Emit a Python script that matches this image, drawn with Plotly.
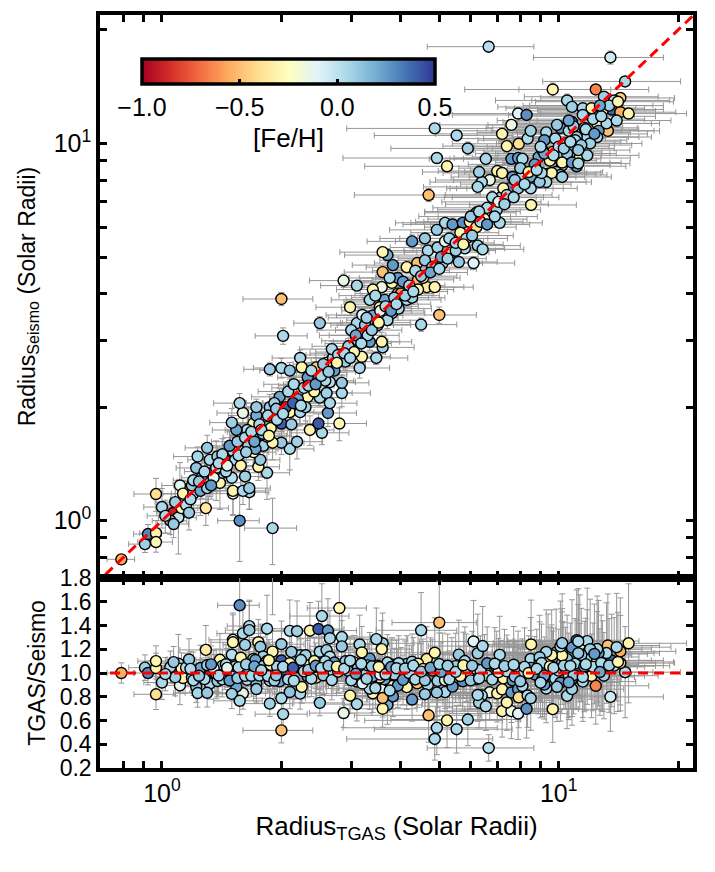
import numpy as np
import plotly.graph_objects as go
from plotly.subplots import make_subplots
from plotly.colors import diverging

# radius from TGAS parallax and from asteroseismology (solar radii), [Fe/H]
radius_tgas = [
    0.79, 0.906, 0.922, 0.966, 0.966, 0.966, 1.00, 1.066, 1.10, 1.12,
    1.29, 1.57, 1.90, 1.51, 1.66, 1.11, 1.13, 1.20, 1.19, 1.26,
    1.32, 1.40, 1.50, 1.42, 1.36, 1.32, 1.22, 1.23, 1.30, 1.37,
    1.44, 1.51, 1.51, 1.60, 1.66, 1.62, 1.84, 1.75, 1.77, 1.60,
    1.70, 1.80, 2.10, 2.00, 1.90, 1.84, 1.73, 1.70, 1.60, 1.64,
    1.54, 1.50, 1.57, 1.73, 1.73, 1.84, 2.00, 1.90, 1.87, 1.98,
    2.10, 2.23, 2.19, 2.53, 2.36, 2.48, 2.62, 2.80, 2.50, 2.33,
    2.60, 2.84, 2.84, 2.65, 2.47, 2.33, 2.50, 2.00, 2.02, 2.50,
    2.23, 1.87, 2.00, 2.10, 2.25, 2.45, 2.60, 2.70, 2.90, 3.15,
    3.10, 3.34, 3.60, 3.58, 3.19, 3.47, 3.80, 3.93, 3.58, 3.80,
    3.40, 3.34, 3.64, 3.70, 3.82, 2.87, 3.10, 3.64, 2.98, 3.20,
    3.54, 3.60, 4.27, 4.40, 4.14, 3.93, 4.42, 4.65, 4.87, 4.68,
    4.95, 5.17, 5.38, 5.10, 5.60, 6.10, 5.80, 6.25, 6.43, 5.17,
    4.93, 5.40, 5.73, 5.97, 6.20, 6.50, 6.60, 6.98, 7.10, 6.20,
    7.15, 7.50, 7.90, 8.50, 8.95, 7.25, 6.70, 6.40, 6.30, 7.00,
    7.20, 7.65, 8.10, 8.50, 6.55, 7.60, 7.90, 8.10, 8.90, 9.60,
    10.2, 10.5, 11.3, 11.8, 11.1, 10.2, 9.85, 9.40, 6.66, 13.5,
    14.7, 9.66, 12.4, 14.3, 13.6, 14.3, 15.0, 10.5, 10.8, 11.5,
    12.1, 13.0, 13.3, 9.66, 4.87, 5.53, 5.90, 4.93, 5.23, 4.70,
    8.52, 7.20, 7.60, 7.90, 8.30, 7.40, 7.93, 8.35, 8.50, 9.30,
    9.20, 9.80, 10.1, 10.8, 10.6, 11.3, 11.8, 12.5, 13.2, 12.6,
    11.1, 12.5, 10.9, 10.6, 10.2, 10.8, 11.2, 10.1, 9.60, 9.30,
    8.95, 9.05, 10.2, 5.00, 4.50, 4.00, 4.14, 4.27, 4.42, 3.60,
    3.75, 6.25, 1.05, 1.08, 1.15, 1.17, 1.20, 1.25, 1.28, 1.30,
    1.35, 1.38, 1.42, 1.45, 1.48, 1.53, 1.55, 1.58, 1.62, 1.65,
    1.68, 1.72, 1.76, 1.80, 1.85, 1.88, 1.92, 1.95, 2.05, 2.08,
    2.12, 2.15, 2.20, 2.28, 2.30, 2.38, 2.42, 2.55, 2.58, 2.68,
    2.72, 2.78, 2.95, 3.00, 3.05, 3.12, 3.25, 3.30, 3.40, 3.50,
    3.55, 3.70, 3.85, 3.95, 4.05, 4.20, 4.35, 4.55, 4.60, 4.80,
    5.05, 5.30, 5.50, 5.65, 5.85, 6.00, 6.35, 6.80, 7.05, 7.40,
    7.75, 8.20, 8.70, 9.10, 9.50, 10.0, 10.4, 11.0, 11.6, 12.2,
    12.9, 13.8, 14.0, 12.0, 11.4, 1.02, 1.07, 2.65, 3.45, 4.60,
    1.18, 1.24, 1.33, 1.39, 1.46, 1.56, 1.63, 1.71, 1.78, 1.86,
    1.94, 2.02, 2.14, 2.24, 2.34, 2.44, 2.52, 2.63, 2.76, 2.88,
    2.98, 3.08, 3.18, 3.28, 3.38, 3.52, 3.66, 3.78, 3.90, 4.10,
    4.30, 4.50, 4.75, 5.00, 5.25, 5.50, 5.75, 6.05, 6.30, 6.60,
    6.90, 7.30, 7.70, 8.00, 8.40, 8.80, 9.20, 9.70, 10.3, 10.7,
    11.2, 11.7, 12.3, 12.8, 13.4, 14.1, 9.00, 9.90, 11.5, 12.7,
]

radius_seismo = [
    0.79, 0.867, 0.922, 0.927, 0.878, 1.177, 1.087, 1.048, 1.02, 1.08,
    1.08, 1.00, 0.956, 1.18, 1.19, 1.24, 1.18, 1.18, 1.24, 1.30,
    1.26, 1.26, 1.30, 1.34, 1.36, 1.45, 1.38, 1.48, 1.56, 1.38,
    1.45, 1.53, 1.20, 1.20, 1.22, 1.31, 1.34, 1.39, 1.45, 1.53,
    1.52, 1.58, 1.55, 1.61, 1.61, 1.67, 1.67, 1.81, 1.93, 1.74,
    1.74, 1.82, 2.05, 1.90, 2.00, 1.77, 1.81, 1.88, 2.00, 2.13,
    1.94, 1.94, 1.62, 1.71, 1.74, 1.81, 1.93, 1.81, 2.12, 2.13,
    2.18, 2.18, 2.32, 2.33, 2.40, 2.40, 2.47, 3.87, 3.09, 3.34,
    2.70, 2.52, 2.54, 2.50, 2.55, 2.55, 2.62, 2.70, 2.64, 2.54,
    3.34, 2.98, 2.88, 2.98, 2.72, 2.70, 3.55, 4.00, 4.16, 4.27,
    4.10, 3.85, 3.80, 5.06, 4.76, 4.33, 4.20, 3.85, 3.68, 3.51,
    3.68, 5.15, 5.50, 4.82, 4.70, 4.40, 4.35, 4.16, 4.16, 5.20,
    5.30, 5.50, 5.15, 4.82, 4.85, 4.82, 5.27, 5.36, 5.24, 6.16,
    5.90, 6.10, 6.16, 6.20, 6.00, 6.30, 6.75, 6.67, 6.16, 6.55,
    7.20, 7.60, 7.60, 7.60, 8.15, 7.60, 8.00, 7.90, 8.40, 8.45,
    8.35, 8.15, 8.25, 8.15, 9.10, 9.10, 9.15, 9.10, 9.20, 9.10,
    9.40, 9.40, 9.15, 9.30, 8.70, 8.75, 8.40, 8.30, 18.05, 16.9,
    14.6, 13.9, 13.9, 13.2, 12.3, 12.1, 12.0, 13.0, 12.5, 12.4,
    12.4, 13.3, 10.8, 9.50, 10.96, 10.5, 9.70, 9.15, 8.70, 7.30,
    6.87, 10.6, 11.2, 12.0, 11.9, 9.84, 9.98, 10.3, 10.8, 10.7,
    10.2, 10.3, 11.0, 11.4, 10.8, 10.7, 10.4, 11.3, 11.3, 10.8,
    10.4, 10.4, 11.1, 11.5, 8.90, 8.90, 8.85, 8.25, 8.35, 7.90,
    7.90, 8.35, 8.15, 3.51, 3.31, 4.00, 3.85, 3.90, 4.10, 4.56,
    4.40, 7.67, 1.00, 1.12, 1.10, 1.05, 1.28, 1.20, 1.35, 1.22,
    1.30, 1.48, 1.50, 1.35, 1.58, 1.45, 1.62, 1.40, 1.66, 1.58,
    1.72, 1.55, 1.80, 1.70, 1.90, 1.76, 2.05, 1.85, 2.00, 2.20,
    1.80, 2.30, 2.10, 2.25, 2.00, 2.50, 2.20, 2.60, 2.35, 2.85,
    2.50, 2.75, 2.90, 3.20, 2.80, 3.00, 3.30, 3.10, 3.50, 3.30,
    3.60, 3.40, 3.90, 3.65, 4.30, 4.20, 4.60, 4.40, 4.90, 4.70,
    5.00, 5.60, 5.20, 5.80, 5.60, 6.40, 6.20, 7.20, 7.00, 7.30,
    8.00, 7.80, 8.80, 9.60, 9.00, 9.80, 10.0, 10.2, 11.0, 11.6,
    12.2, 13.0, 11.5, 10.0, 9.90, 1.03, 0.98, 2.05, 3.95, 5.60,
    1.14, 1.27, 1.24, 1.42, 1.40, 1.49, 1.52, 1.62, 1.74, 1.68,
    1.98, 1.92, 2.05, 2.02, 2.28, 2.30, 2.42, 2.48, 2.62, 2.78,
    2.70, 3.10, 2.95, 3.45, 3.20, 3.35, 3.70, 3.60, 3.75, 3.95,
    4.05, 4.45, 4.55, 4.65, 4.95, 5.45, 5.40, 5.70, 6.60, 6.10,
    6.40, 6.90, 7.20, 8.60, 8.40, 8.50, 9.40, 9.30, 9.70, 10.1,
    9.60, 10.9, 10.6, 11.8, 12.6, 12.9, 9.80, 11.2, 11.9, 12.6,
]

feh = [
    -0.55, 0.08, 0.30, -0.30, -0.28, -0.40, 0.05, -0.90, 0.00, -0.30,
    -0.35, 0.28, 0.05, -0.15, 0.05, -0.12, -0.30, 0.05, 0.10, 0.05,
    0.08, -0.30, 0.02, 0.10, -0.28, 0.05, 0.12, 0.06, 0.10, 0.00,
    0.25, 0.05, -0.30, 0.05, 0.10, 0.08, 0.05, -0.30, 0.10, 0.02,
    -0.25, 0.08, 0.05, 0.10, -0.30, 0.05, 0.25, -0.30, -0.15, 0.05,
    0.22, 0.08, 0.05, 0.20, 0.10, 0.02, 0.40, 0.05, 0.10, 0.22,
    -0.30, 0.05, 0.08, 0.05, -0.30, 0.42, 0.25, -0.28, 0.05, -0.30,
    0.08, 0.05, 0.10, 0.02, 0.40, 0.25, 0.05, -0.50, 0.05, 0.10,
    0.05, 0.08, 0.05, 0.12, -0.30, -0.45, -0.30, 0.05, 0.10, 0.05,
    0.05, 0.25, 0.08, -0.30, -0.30, 0.05, 0.05, -0.50, -0.15, -0.30,
    -0.30, 0.05, -0.10, 0.20, 0.25, -0.15, 0.05, 0.22, -0.30, -0.10,
    -0.35, -0.30, 0.25, -0.50, -0.30, 0.25, -0.50, -0.35, -0.30, 0.05,
    0.08, -0.15, -0.30, 0.05, 0.10, -0.10, 0.05, 0.08, 0.05, 0.05,
    0.10, 0.25, 0.28, -0.30, -0.40, -0.30, 0.05, 0.08, 0.05, 0.10,
    0.05, 0.25, 0.10, 0.05, 0.08, -0.30, -0.15, 0.05, 0.08, -0.30,
    -0.30, 0.25, 0.05, 0.22, 0.05, 0.25, 0.25, 0.05, 0.22, 0.08,
    0.05, 0.10, -0.30, 0.05, 0.25, 0.05, 0.08, -0.30, 0.02, -0.05,
    0.05, -0.30, -0.65, -0.45, 0.38, -0.55, -0.30, 0.05, 0.08, 0.05,
    -0.30, 0.08, -0.50, -0.50, 0.05, 0.05, 0.08, 0.05, -0.30, -0.50,
    -0.30, -0.30, -0.15, -0.10, 0.28, -0.30, -0.40, 0.05, 0.08, 0.05,
    0.25, 0.05, 0.25, 0.38, 0.05, -0.12, 0.05, -0.30, 0.05, 0.25,
    0.08, 0.05, 0.10, 0.22, -0.30, 0.25, 0.05, 0.05, -0.30, 0.05,
    0.10, 0.05, 0.08, -0.50, 0.05, -0.60, 0.05, 0.08, -0.30, -0.50,
    0.05, 0.05, 0.05, 0.08, 0.02, 0.10, 0.05, 0.22, 0.05, 0.08,
    -0.12, 0.10, 0.05, 0.05, 0.25, 0.05, 0.10, -0.30, 0.05, 0.08,
    0.05, 0.22, 0.05, 0.10, 0.05, -0.30, 0.08, 0.05, 0.40, 0.05,
    0.10, 0.05, 0.22, 0.05, 0.08, 0.05, -0.30, 0.10, 0.05, 0.05,
    0.25, 0.05, 0.08, 0.05, -0.30, 0.05, 0.10, 0.05, 0.22, 0.05,
    -0.12, 0.05, 0.08, 0.05, 0.25, 0.05, 0.05, -0.30, 0.10, 0.05,
    0.22, 0.05, 0.08, -0.30, 0.05, 0.10, 0.05, 0.05, -0.12, 0.05,
    0.10, 0.05, 0.25, 0.05, -0.30, 0.05, 0.10, 0.05, 0.22, 0.05,
    -0.30, 0.05, 0.05, 0.08, 0.10, 0.05, 0.10, 0.05, 0.05, 0.10,
    0.05, 0.10, 0.25, 0.05, -0.12, 0.05, 0.08, 0.22, 0.05, -0.30,
    0.10, 0.05, 0.40, 0.05, 0.08, 0.25, 0.05, 0.10, -0.30, 0.05,
    0.05, 0.22, 0.05, 0.08, 0.10, -0.30, 0.05, 0.25, 0.05, 0.08,
    0.05, 0.10, 0.22, 0.05, 0.08, 0.05, -0.30, 0.10, 0.05, 0.25,
    0.05, 0.08, 0.05, 0.10, -0.30, 0.05, 0.22, 0.05, 0.08, 0.05,
    0.10, 0.05, 0.25, 0.05, 0.08, -0.30, 0.05, 0.10, 0.05, 0.22,
]

# percent uncertainties
tgas_err_pct = [
    8, 9, 8, 9, 10, 12, 10, 9, 11, 10,
    14, 12, 15, 13, 12, 10, 11, 12, 10, 11,
    12, 13, 11, 12, 10, 12, 11, 13, 12, 11,
    12, 13, 12, 14, 13, 12, 14, 13, 12, 13,
    14, 13, 15, 14, 13, 12, 14, 13, 14, 12,
    13, 12, 14, 15, 13, 14, 15, 13, 14, 15,
    15, 14, 16, 17, 15, 16, 18, 17, 16, 15,
    16, 18, 17, 16, 15, 16, 17, 20, 15, 14,
    15, 14, 15, 16, 15, 17, 16, 17, 18, 19,
    18, 19, 20, 19, 18, 20, 21, 22, 20, 21,
    19, 20, 21, 22, 21, 18, 19, 20, 18, 19,
    20, 22, 23, 22, 21, 20, 23, 24, 25, 23,
    24, 25, 24, 26, 25, 27, 26, 28, 27, 25,
    24, 25, 26, 27, 26, 28, 27, 29, 28, 26,
    28, 29, 30, 31, 30, 28, 27, 26, 28, 29,
    29, 30, 31, 30, 28, 30, 31, 29, 32, 33,
    32, 33, 34, 35, 33, 32, 31, 32, 30, 36,
    38, 40, 36, 37, 35, 38, 40, 34, 35, 36,
    36, 37, 35, 33, 40, 38, 36, 42, 38, 35,
    30, 32, 34, 33, 35, 31, 32, 33, 34, 33,
    32, 34, 35, 33, 36, 34, 35, 37, 36, 38,
    35, 37, 33, 34, 32, 33, 35, 31, 33, 30,
    31, 30, 33, 24, 23, 21, 22, 21, 23, 20,
    21, 27, 10, 11, 10, 12, 11, 12, 11, 13,
    12, 13, 12, 14, 13, 12, 14, 13, 12, 14,
    13, 14, 13, 15, 14, 13, 15, 14, 15, 16,
    15, 16, 15, 17, 16, 15, 17, 16, 18, 17,
    18, 17, 19, 18, 20, 19, 18, 20, 19, 21,
    20, 21, 22, 21, 22, 23, 22, 24, 23, 25,
    24, 25, 26, 25, 27, 26, 28, 29, 28, 30,
    30, 31, 32, 33, 31, 34, 33, 35, 36, 35,
    36, 38, 37, 35, 34, 10, 9, 17, 19, 23,
    11, 12, 12, 13, 12, 13, 14, 13, 14, 14,
    15, 14, 16, 15, 16, 17, 16, 17, 18, 18,
    18, 19, 19, 20, 19, 20, 21, 21, 22, 22,
    22, 23, 24, 24, 25, 25, 26, 27, 27, 28,
    28, 29, 30, 30, 31, 32, 33, 32, 34, 34,
    35, 36, 36, 37, 37, 38, 32, 33, 35, 36,
]

seismo_err_pct = [
    3, 5, 6, 8, 6, 10, 12, 5, 20, 8,
    10, 22, 20, 12, 10, 15, 8, 10, 6, 12,
    8, 15, 10, 6, 12, 8, 10, 6, 8, 18,
    6, 10, 14, 8, 12, 6, 15, 8, 10, 7,
    8, 6, 12, 7, 10, 5, 9, 6, 8, 10,
    7, 9, 6, 8, 5, 10, 7, 6, 8, 5,
    6, 8, 10, 7, 9, 6, 8, 10, 5, 7,
    6, 8, 5, 7, 6, 8, 5, 4, 5, 4,
    5, 4, 6, 5, 4, 6, 5, 4, 5, 6,
    4, 5, 4, 6, 5, 4, 3, 4, 5, 4,
    4, 3, 5, 4, 3, 4, 3, 4, 5, 4,
    4, 3, 4, 3, 4, 5, 3, 4, 3, 4,
    3, 4, 3, 4, 3, 4, 3, 4, 3, 4,
    3, 4, 3, 4, 3, 4, 3, 4, 3, 4,
    3, 4, 3, 3, 4, 3, 4, 3, 4, 3,
    3, 4, 3, 3, 4, 3, 3, 4, 3, 3,
    3, 3, 4, 3, 3, 4, 3, 3, 3, 4,
    3, 4, 3, 3, 4, 3, 3, 4, 3, 3,
    3, 3, 4, 3, 3, 3, 4, 3, 3, 4,
    3, 4, 3, 3, 3, 4, 3, 3, 4, 3,
    3, 3, 4, 3, 3, 4, 3, 3, 4, 3,
    3, 3, 4, 3, 3, 4, 3, 3, 4, 3,
    3, 4, 3, 5, 4, 4, 3, 4, 3, 4,
    3, 4, 8, 12, 6, 10, 8, 14, 6, 10,
    8, 6, 10, 7, 9, 6, 8, 12, 7, 6,
    5, 8, 6, 7, 5, 9, 6, 7, 5, 6,
    7, 5, 6, 5, 8, 5, 6, 4, 6, 5,
    5, 4, 5, 4, 6, 4, 5, 4, 5, 4,
    4, 5, 4, 4, 3, 4, 3, 4, 3, 4,
    3, 4, 3, 4, 3, 4, 3, 4, 3, 3,
    3, 4, 3, 3, 4, 3, 3, 4, 3, 3,
    3, 3, 4, 3, 3, 10, 8, 6, 4, 3,
    9, 7, 8, 6, 10, 7, 6, 8, 5, 7,
    6, 7, 5, 6, 5, 6, 5, 6, 5, 4,
    5, 4, 5, 4, 5, 4, 4, 5, 4, 4,
    3, 4, 3, 4, 3, 4, 3, 4, 3, 4,
    3, 4, 3, 3, 4, 3, 3, 4, 3, 3,
    3, 3, 4, 3, 3, 4, 3, 3, 4, 3,
]

one_to_one_x = [0.72, 22.0]
unity_x = [0.74, 22.0]
unity_y = [1.0, 1.0]

log_tickvals = [0.8, 0.9, 1, 2, 3, 4, 5, 6, 7, 8, 9, 10, 20]
ratio_tickvals = [0.2, 0.4, 0.6, 0.8, 1.0, 1.2, 1.4, 1.6, 1.8]

assert len(radius_tgas) == len(radius_seismo) == len(feh) == len(tgas_err_pct) == len(seismo_err_pct)

rt = np.array(radius_tgas)
rs = np.array(radius_seismo)
ft = np.array(tgas_err_pct) / 100.0
fs = np.array(seismo_err_pct) / 100.0
ratio = rt / rs
ratio_err = ratio * np.sqrt(ft ** 2 + fs ** 2)

cmap = diverging.RdYlBu
colorscale = [[i / (len(cmap) - 1), c] for i, c in enumerate(cmap)]

font = "Liberation Sans, Arial, Helvetica, sans-serif"
err_style = dict(color="rgb(150,150,150)", thickness=1, width=3)

fig = make_subplots(rows=2, cols=1, shared_xaxes=True, vertical_spacing=0,
                    row_heights=[563, 190])

marker_common = dict(size=11, color=feh, colorscale=colorscale, cmin=-1.0, cmax=0.5,
                     line=dict(color="black", width=1.4))

fig.add_trace(go.Scatter(
    x=rt, y=rs, mode="markers",
    error_x=dict(type="data", array=rt * ft, **err_style),
    error_y=dict(type="data", array=rs * fs, **err_style),
    marker=dict(**marker_common, showscale=True,
                colorbar=dict(
                    orientation="h", x=0.0708, xanchor="left", y=0.9416, yanchor="top",
                    len=0.494, lenmode="fraction", thickness=25,
                    outlinewidth=3.5, outlinecolor="black",
                    ticks="inside", ticklen=6, tickwidth=2.5, tickcolor="black",
                    tickvals=[-1.0, -0.5, 0.0, 0.5], tickformat=".1f",
                    tickfont=dict(size=25, family=font, color="black"),
                    title=dict(text="[Fe/H]", side="bottom",
                               font=dict(size=26, family=font, color="black")),
                    xpad=0, ypad=0,
                )),
    showlegend=False,
), row=1, col=1)

fig.add_trace(go.Scatter(
    x=rt, y=ratio, mode="markers",
    error_x=dict(type="data", array=rt * ft, **err_style),
    error_y=dict(type="data", array=ratio_err, **err_style),
    marker=dict(**marker_common, showscale=False),
    showlegend=False,
), row=2, col=1)

dash_style = dict(color="red", width=3, dash="10px,6px")
fig.add_trace(go.Scatter(x=one_to_one_x, y=one_to_one_x, mode="lines",
                         line=dash_style, showlegend=False), row=1, col=1)
fig.add_trace(go.Scatter(x=unity_x, y=unity_y, mode="lines",
                         line=dash_style, showlegend=False), row=2, col=1)

log_text = ["10<sup>0</sup>" if v == 1 else ("10<sup>1</sup>" if v == 10 else "")
            for v in log_tickvals]
axis_common = dict(showline=True, linewidth=3.5, linecolor="black", mirror="allticks",
                   ticks="inside", ticklen=7, tickwidth=3, tickcolor="black",
                   showgrid=False, zeroline=False, automargin=False)

fig.update_xaxes(type="log", range=[np.log10(0.698), np.log10(21.8)],
                 tickvals=log_tickvals, ticktext=log_text,
                 tickfont=dict(size=25, family=font, color="black"),
                 title_font=dict(size=26, family=font, color="black"),
                 **axis_common)
fig.update_xaxes(showticklabels=False, row=1, col=1)
fig.update_xaxes(title_text="Radius<sub>TGAS</sub> (Solar Radii)", title_standoff=12,
                 row=2, col=1)

fig.update_yaxes(type="log", range=[np.log10(0.705), np.log10(21.9)],
                 tickvals=log_tickvals, ticktext=log_text,
                 tickfont=dict(size=25, family=font, color="black"),
                 title_font=dict(size=23, family=font, color="black"),
                 title_text="Radius<sub>Seismo</sub> (Solar Radii)", title_standoff=13,
                 row=1, col=1, **axis_common)
fig.update_yaxes(range=[0.2, 1.8], tickvals=ratio_tickvals, tickformat=".1f",
                 tickfont=dict(size=23, family=font, color="black"),
                 title_font=dict(size=23, family=font, color="black"),
                 title_text="TGAS/Seismo", title_standoff=9, row=2, col=1,
                 **axis_common)

# page body adds an 8px offset, so the figure is sized to fill the window
fig.update_layout(width=707, height=864,
                  margin=dict(l=92, r=22, t=7, b=104, autoexpand=False),
                  paper_bgcolor="white", plot_bgcolor="white",
                  font=dict(family=font, color="black"))

fig.write_html("out.html")
